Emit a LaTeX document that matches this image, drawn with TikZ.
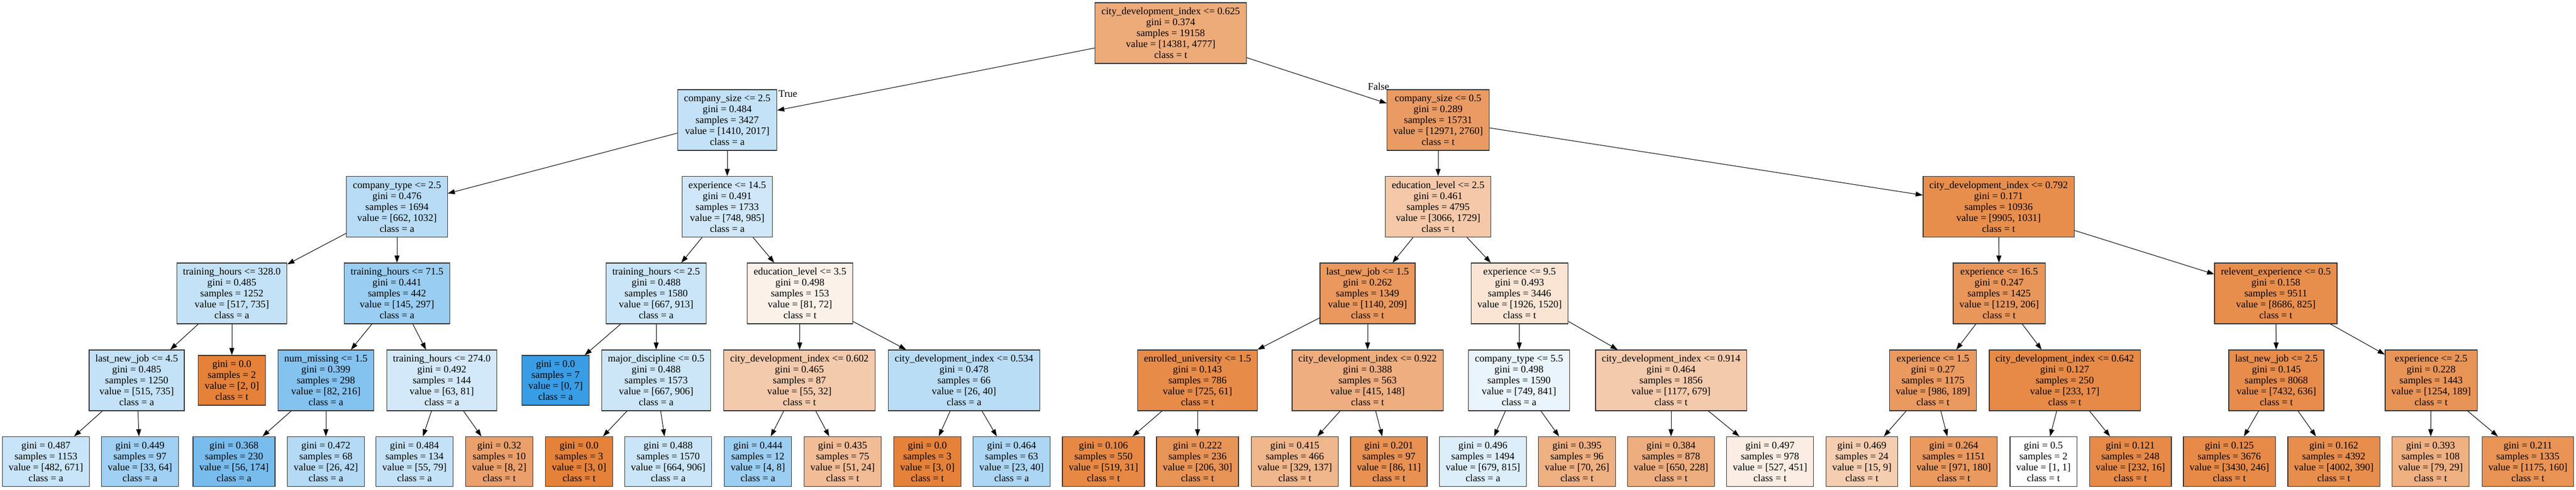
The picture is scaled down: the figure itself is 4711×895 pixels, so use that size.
\documentclass[tikz,border=0pt]{standalone}
\usepackage{fontspec}
\setmainfont{Liberation Serif}
\usetikzlibrary{arrows.meta}
\definecolor{clst}{RGB}{229,129,57}
\definecolor{clsa}{RGB}{57,157,229}
\begin{document}
\begin{tikzpicture}[x=1pt,y=-1pt,
        split/.style={draw=black!80,line width=1.2pt,align=center,inner xsep=11.5pt,inner ysep=0pt,minimum height=111pt,font=\fontsize{18.4}{20}\selectfont},
        leaf/.style={split,minimum height=91pt},
        arr/.style={-{Triangle[length=13pt,width=9pt]},line width=1pt},
        lbl/.style={inner sep=0pt,font=\fontsize{18.4}{20}\selectfont}]
        \useasboundingbox (0,0) rectangle (4711,895);
        % depth 0 and 1
        \node[split,fill=clst!67!white] (root) at (2141,60.5) {city\_development\_index <= 0.625\\gini = 0.374\\samples = 19158\\value = [14381, 4777]\\class = t};
        \node[split,fill=clsa!30!white] (csA) at (1330,219.5) {company\_size <= 2.5\\gini = 0.484\\samples = 3427\\value = [1410, 2017]\\class = a};
        \node[split,fill=clst!79!white] (csB) at (2630,219.5) {company\_size <= 0.5\\gini = 0.289\\samples = 15731\\value = [12971, 2760]\\class = t};
        \node[lbl] (true) at (1441,172) {True};
        \node[lbl] (false) at (2521,158) {False};
        % depth 2
        \node[split,fill=clsa!36!white] (ctA) at (726,378) {company\_type <= 2.5\\gini = 0.476\\samples = 1694\\value = [662, 1032]\\class = a};
        \node[split,fill=clsa!24!white] (exA) at (1330,378) {experience <= 14.5\\gini = 0.491\\samples = 1733\\value = [748, 985]\\class = a};
        \node[split,fill=clst!44!white] (edA) at (2630,378) {education\_level <= 2.5\\gini = 0.461\\samples = 4795\\value = [3066, 1729]\\class = t};
        \node[split,fill=clst!90!white] (cdA) at (3655,378) {city\_development\_index <= 0.792\\gini = 0.171\\samples = 10936\\value = [9905, 1031]\\class = t};
        % depth 3
        \node[split,fill=clsa!30!white] (thA) at (424,536.5) {training\_hours <= 328.0\\gini = 0.485\\samples = 1252\\value = [517, 735]\\class = a};
        \node[split,fill=clsa!51!white] (thB) at (726,536.5) {training\_hours <= 71.5\\gini = 0.441\\samples = 442\\value = [145, 297]\\class = a};
        \node[split,fill=clsa!27!white] (thC) at (1200,536.5) {training\_hours <= 2.5\\gini = 0.488\\samples = 1580\\value = [667, 913]\\class = a};
        \node[split,fill=clst!11!white] (edB) at (1463,536.5) {education\_level <= 3.5\\gini = 0.498\\samples = 153\\value = [81, 72]\\class = t};
        \node[split,fill=clst!82!white] (njA) at (2501,536.5) {last\_new\_job <= 1.5\\gini = 0.262\\samples = 1349\\value = [1140, 209]\\class = t};
        \node[split,fill=clst!21!white] (exB) at (2779,536.5) {experience <= 9.5\\gini = 0.493\\samples = 3446\\value = [1926, 1520]\\class = t};
        \node[split,fill=clst!83!white] (exC) at (3656,536.5) {experience <= 16.5\\gini = 0.247\\samples = 1425\\value = [1219, 206]\\class = t};
        \node[split,fill=clst!90!white] (reA) at (4162,536.5) {relevent\_experience <= 0.5\\gini = 0.158\\samples = 9511\\value = [8686, 825]\\class = t};
        % depth 4
        \node[split,fill=clsa!30!white] (njB) at (250,695.5) {last\_new\_job <= 4.5\\gini = 0.485\\samples = 1250\\value = [515, 735]\\class = a};
        \node[leaf,fill=clst] (lf01) at (424,695.5) {gini = 0.0\\samples = 2\\value = [2, 0]\\class = t};
        \node[split,fill=clsa!62!white] (nmA) at (596,695.5) {num\_missing <= 1.5\\gini = 0.399\\samples = 298\\value = [82, 216]\\class = a};
        \node[split,fill=clsa!22!white] (thD) at (808,695.5) {training\_hours <= 274.0\\gini = 0.492\\samples = 144\\value = [63, 81]\\class = a};
        \node[leaf,fill=clsa] (lf02) at (1016,695.5) {gini = 0.0\\samples = 7\\value = [0, 7]\\class = a};
        \node[split,fill=clsa!26!white] (mdA) at (1200,695.5) {major\_discipline <= 0.5\\gini = 0.488\\samples = 1573\\value = [667, 906]\\class = a};
        \node[split,fill=clst!42!white] (cdB) at (1462,695.5) {city\_development\_index <= 0.602\\gini = 0.465\\samples = 87\\value = [55, 32]\\class = t};
        \node[split,fill=clsa!35!white] (cdC) at (1763,695.5) {city\_development\_index <= 0.534\\gini = 0.478\\samples = 66\\value = [26, 40]\\class = a};
        \node[split,fill=clst!92!white] (euA) at (2190,695.5) {enrolled\_university <= 1.5\\gini = 0.143\\samples = 786\\value = [725, 61]\\class = t};
        \node[split,fill=clst!64!white] (cdD) at (2501,695.5) {city\_development\_index <= 0.922\\gini = 0.388\\samples = 563\\value = [415, 148]\\class = t};
        \node[split,fill=clsa!11!white] (ctB) at (2778,695.5) {company\_type <= 5.5\\gini = 0.498\\samples = 1590\\value = [749, 841]\\class = a};
        \node[split,fill=clst!42!white] (cdE) at (3056,695.5) {city\_development\_index <= 0.914\\gini = 0.464\\samples = 1856\\value = [1177, 679]\\class = t};
        \node[split,fill=clst!81!white] (exD) at (3535,695.5) {experience <= 1.5\\gini = 0.27\\samples = 1175\\value = [986, 189]\\class = t};
        \node[split,fill=clst!93!white] (cdF) at (3776,695.5) {city\_development\_index <= 0.642\\gini = 0.127\\samples = 250\\value = [233, 17]\\class = t};
        \node[split,fill=clst!91!white] (njC) at (4163,695.5) {last\_new\_job <= 2.5\\gini = 0.145\\samples = 8068\\value = [7432, 636]\\class = t};
        \node[split,fill=clst!85!white] (exE) at (4446,695.5) {experience <= 2.5\\gini = 0.228\\samples = 1443\\value = [1254, 189]\\class = t};
        % depth 5, all leaves
        \node[leaf,fill=clsa!28!white] (lf03) at (84,844) {gini = 0.487\\samples = 1153\\value = [482, 671]\\class = a};
        \node[leaf,fill=clsa!48!white] (lf04) at (256,844) {gini = 0.449\\samples = 97\\value = [33, 64]\\class = a};
        \node[leaf,fill=clsa!68!white] (lf05) at (428,844) {gini = 0.368\\samples = 230\\value = [56, 174]\\class = a};
        \node[leaf,fill=clsa!38!white] (lf06) at (596,844) {gini = 0.472\\samples = 68\\value = [26, 42]\\class = a};
        \node[leaf,fill=clsa!30!white] (lf07) at (758,844) {gini = 0.484\\samples = 134\\value = [55, 79]\\class = a};
        \node[leaf,fill=clst!75!white] (lf08) at (913,844) {gini = 0.32\\samples = 10\\value = [8, 2]\\class = t};
        \node[leaf,fill=clst] (lf09) at (1059,844) {gini = 0.0\\samples = 3\\value = [3, 0]\\class = t};
        \node[leaf,fill=clsa!27!white] (lf10) at (1222,844) {gini = 0.488\\samples = 1570\\value = [664, 906]\\class = a};
        \node[leaf,fill=clsa!50!white] (lf11) at (1386,844) {gini = 0.444\\samples = 12\\value = [4, 8]\\class = a};
        \node[leaf,fill=clst!53!white] (lf12) at (1541,844) {gini = 0.435\\samples = 75\\value = [51, 24]\\class = t};
        \node[leaf,fill=clst] (lf13) at (1696,844) {gini = 0.0\\samples = 3\\value = [3, 0]\\class = t};
        \node[leaf,fill=clsa!42!white] (lf14) at (1850,844) {gini = 0.464\\samples = 63\\value = [23, 40]\\class = a};
        \node[leaf,fill=clst!94!white] (lf15) at (2018,844) {gini = 0.106\\samples = 550\\value = [519, 31]\\class = t};
        \node[leaf,fill=clst!85!white] (lf16) at (2190,844) {gini = 0.222\\samples = 236\\value = [206, 30]\\class = t};
        \node[leaf,fill=clst!58!white] (lf17) at (2368,844) {gini = 0.415\\samples = 466\\value = [329, 137]\\class = t};
        \node[leaf,fill=clst!87!white] (lf18) at (2540,844) {gini = 0.201\\samples = 97\\value = [86, 11]\\class = t};
        \node[leaf,fill=clsa!17!white] (lf19) at (2712,844) {gini = 0.496\\samples = 1494\\value = [679, 815]\\class = a};
        \node[leaf,fill=clst!63!white] (lf20) at (2884,844) {gini = 0.395\\samples = 96\\value = [70, 26]\\class = t};
        \node[leaf,fill=clst!65!white] (lf21) at (3056,844) {gini = 0.384\\samples = 878\\value = [650, 228]\\class = t};
        \node[leaf,fill=clst!14!white] (lf22) at (3237,844) {gini = 0.497\\samples = 978\\value = [527, 451]\\class = t};
        \node[leaf,fill=clst!40!white] (lf23) at (3405,844) {gini = 0.469\\samples = 24\\value = [15, 9]\\class = t};
        \node[leaf,fill=clst!81!white] (lf24) at (3573,844) {gini = 0.264\\samples = 1151\\value = [971, 180]\\class = t};
        \node[leaf,fill=white] (lf25) at (3737,844) {gini = 0.5\\samples = 2\\value = [1, 1]\\class = t};
        \node[leaf,fill=clst!93!white] (lf26) at (3896,844) {gini = 0.121\\samples = 248\\value = [232, 16]\\class = t};
        \node[leaf,fill=clst!93!white] (lf27) at (4077,844) {gini = 0.125\\samples = 3676\\value = [3430, 246]\\class = t};
        \node[leaf,fill=clst!90!white] (lf28) at (4268,844) {gini = 0.162\\samples = 4392\\value = [4002, 390]\\class = t};
        \node[leaf,fill=clst!63!white] (lf29) at (4445,844) {gini = 0.393\\samples = 108\\value = [79, 29]\\class = t};
        \node[leaf,fill=clst!86!white] (lf30) at (4623,844) {gini = 0.211\\samples = 1335\\value = [1175, 160]\\class = t};
        % edges
        \foreach \a/\b in {root/csA,root/csB,csA/ctA,csA/exA,csB/edA,csB/cdA,
            ctA/thA,ctA/thB,exA/thC,exA/edB,edA/njA,edA/exB,cdA/exC,cdA/reA,
            thA/njB,thA/lf01,thB/nmA,thB/thD,thC/lf02,thC/mdA,edB/cdB,edB/cdC,
            njA/euA,njA/cdD,exB/ctB,exB/cdE,exC/exD,exC/cdF,reA/njC,reA/exE,
            njB/lf03,njB/lf04,nmA/lf05,nmA/lf06,thD/lf07,thD/lf08,mdA/lf09,mdA/lf10,
            cdB/lf11,cdB/lf12,cdC/lf13,cdC/lf14,euA/lf15,euA/lf16,cdD/lf17,cdD/lf18,
            ctB/lf19,ctB/lf20,cdE/lf21,cdE/lf22,exD/lf23,exD/lf24,cdF/lf25,cdF/lf26,
            njC/lf27,njC/lf28,exE/lf29,exE/lf30}
            \draw[arr] (\a) -- (\b);
    \end{tikzpicture}
\end{document}
